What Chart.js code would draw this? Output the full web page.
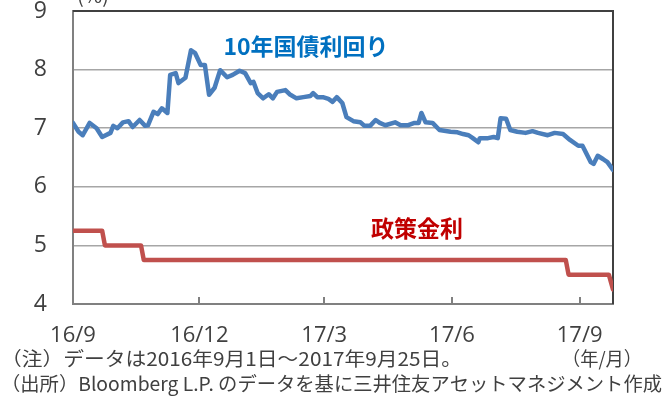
<!DOCTYPE html>
<html>
<head>
<meta charset="utf-8">
<script src="https://cdn.jsdelivr.net/npm/chart.js@4"></script>
<style>
html,body{margin:0;padding:0;background:#fff;}
#wrap{width:667px;height:411px;position:relative;}
</style>
</head>
<body>
<div id="wrap"><canvas id="c" width="667" height="411"></canvas></div>
<script>
// Days since 2016-09-01
const tickDays = [0, 91, 181, 273, 365];
const tickLabels = ["16/9", "16/12", "17/3", "17/6", "17/9"];

const yieldDays = [0,4,7,12,17,21,27,29,32,36,40,43,48,52,54,58,61,64,68,70,74,76,81,85,88,92,95,98,102,106,111,115,120,124,128,130,133,137,141,144,147,153,156,161,166,171,173,176,180,184,187,190,194,197,202,207,210,214,218,221,225,232,236,241,246,249,251,254,259,264,272,277,281,285,288,292,293,299,303,306,308,312,315,320,326,331,335,342,347,353,358,364,367,373,375,378,382,385,389];
const yieldValues = [7.09,6.94,6.88,7.09,7.0,6.85,6.92,7.04,7.0,7.1,7.12,7.02,7.14,7.04,7.05,7.28,7.24,7.34,7.26,7.91,7.94,7.77,7.86,8.33,8.28,8.08,8.08,7.57,7.69,7.99,7.87,7.91,7.98,7.94,7.77,7.79,7.60,7.51,7.58,7.51,7.62,7.65,7.58,7.51,7.53,7.55,7.60,7.53,7.53,7.50,7.45,7.53,7.43,7.19,7.12,7.10,7.04,7.04,7.14,7.09,7.05,7.10,7.05,7.05,7.09,7.09,7.26,7.10,7.09,6.97,6.94,6.93,6.90,6.88,6.83,6.76,6.83,6.83,6.85,6.83,7.17,7.16,6.97,6.94,6.92,6.95,6.92,6.88,6.92,6.90,6.80,6.70,6.70,6.42,6.39,6.53,6.47,6.42,6.29];

const policyDays = [0,21,23,49,51,355,357,386,389];
const policyValues = [5.25,5.25,5.0,5.0,4.75,4.75,4.5,4.5,4.25];

const yieldLabel = "10年国債利回り";
const policyLabel = "政策金利";
const unitLabel = "(%)";
const note1 = "（注）データは2016年9月1日～2017年9月25日。";
const note2 = "（出所）Bloomberg L.P. のデータを基に三井住友アセットマネジメント作成";
const xUnit = "（年/月）";

const toPts = (xs, ys) => xs.map((x, i) => ({x: x, y: ys[i]}));

const jp = '"Noto Sans CJK JP", "Noto Sans", sans-serif';

function fitText(ctx, text, x, y, width) {
  const w = ctx.measureText(text).width;
  ctx.save();
  ctx.translate(x, y);
  ctx.scale(width / w, 1);
  ctx.fillText(text, 0, 0);
  ctx.restore();
}

const overlay = {
  id: 'overlay',
  beforeDatasetsDraw(chart) {
    const {ctx, chartArea: a} = chart;
    const xs = chart.scales.x;
    ctx.save();
    ctx.strokeStyle = '#808080';
    ctx.lineWidth = 2;
    tickDays.forEach((d, i) => {
      if (i === 0) return;
      const px = Math.round(xs.getPixelForValue(d));
      ctx.beginPath();
      ctx.moveTo(px, a.bottom);
      ctx.lineTo(px, a.bottom - 7);
      ctx.stroke();
    });
    ctx.strokeStyle = '#404040';
    ctx.lineWidth = 2;
    ctx.beginPath();
    ctx.moveTo(a.left, a.top);
    ctx.lineTo(a.right, a.top);
    ctx.lineTo(a.right, a.bottom);
    ctx.stroke();
    ctx.restore();
  },
  afterDraw(chart) {
    const {ctx} = chart;
    ctx.save();
    ctx.textBaseline = 'middle';
    ctx.textAlign = 'center';
    ctx.font = 'bold 23px ' + jp;
    ctx.fillStyle = '#0070C0';
    ctx.fillText(yieldLabel, 306, 46);
    ctx.fillStyle = '#C00000';
    ctx.fillText(policyLabel, 417, 228);

    ctx.fillStyle = '#404040';
    ctx.textAlign = 'left';
    ctx.textBaseline = 'alphabetic';
    ctx.font = '20px ' + jp;
    ctx.fillText(unitLabel, 77, 3);

    ctx.textBaseline = 'middle';
    ctx.font = '19px ' + jp;
    fitText(ctx, note1, 1, 359, 461);
    fitText(ctx, note2, 1, 384, 661);
    fitText(ctx, xUnit, 562, 359, 80);
    ctx.restore();
  }
};

new Chart(document.getElementById('c'), {
  type: 'line',
  data: {
    datasets: [
      {
        label: yieldLabel,
        data: toPts(yieldDays, yieldValues),
        borderColor: '#4A7EBB',
        borderWidth: 4.5,
        pointRadius: 0,
        tension: 0,
        borderJoinStyle: 'round',
        borderCapStyle: 'round'
      },
      {
        label: policyLabel,
        data: toPts(policyDays, policyValues),
        borderColor: '#C0504D',
        borderWidth: 4.5,
        pointRadius: 0,
        tension: 0,
        borderJoinStyle: 'round',
        borderCapStyle: 'round'
      }
    ]
  },
  options: {
    responsive: false,
    animation: false,
    events: [],
    layout: {padding: {top: 11, right: 54, bottom: 0, left: 0}},
    plugins: {legend: {display: false}, tooltip: {enabled: false}, title: {display: false}},
    scales: {
      x: {
        type: 'linear',
        min: 0,
        max: 389,
        afterBuildTicks(scale) { scale.ticks = tickDays.map(v => ({value: v})); },
        afterFit(scale) { scale.height = 107; scale.paddingLeft = 0; scale.paddingRight = 0; },
        ticks: {
          autoSkip: false,
          maxRotation: 0,
          padding: 19,
          color: '#404040',
          font: {family: '"Open Sans", sans-serif', size: 22},
          callback: (v) => { const i = tickDays.indexOf(v); return i >= 0 ? tickLabels[i] : ''; }
        },
        grid: {display: true, drawOnChartArea: false, drawTicks: false},
        border: {display: true, color: '#808080', width: 2}
      },
      y: {
        min: 4,
        max: 9,
        afterFit(scale) { scale.width = 73; scale.paddingTop = 0; scale.paddingBottom = 0; },
        ticks: {
          stepSize: 1,
          padding: 26,
          color: '#404040',
          font: {family: '"Open Sans", sans-serif', size: 23}
        },
        grid: {color: '#a6a6a6', lineWidth: 1.5, drawTicks: false},
        border: {display: true, color: '#808080', width: 2}
      }
    }
  },
  plugins: [overlay]
});
</script>
</body>
</html>
